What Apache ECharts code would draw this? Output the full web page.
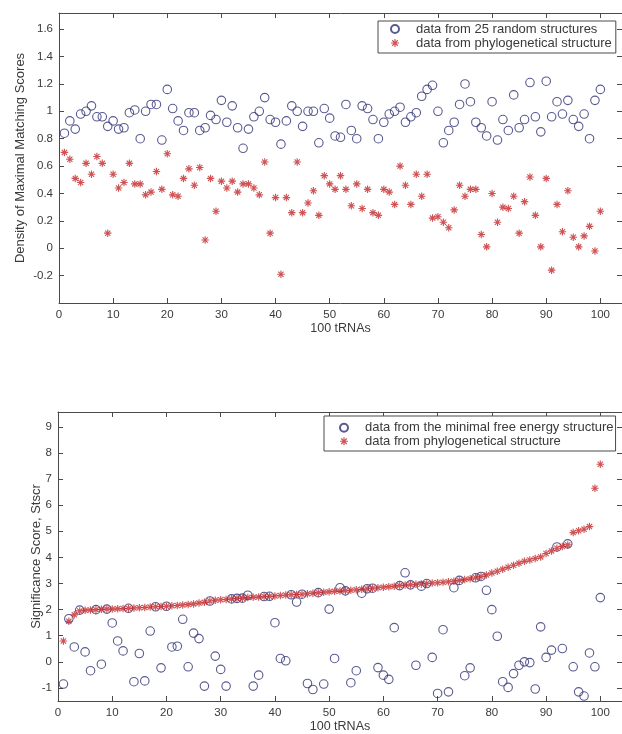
<!DOCTYPE html>
<html><head><meta charset="utf-8">
<script src="https://cdn.jsdelivr.net/npm/echarts@6/dist/echarts.min.js"></script>
<style>html,body{margin:0;padding:0;background:#fff}#c{width:622px;height:734px}</style>
</head><body><div id="c"></div>
<script>
const xTicks = [0, 10, 20, 30, 40, 50, 60, 70, 80, 90, 100];
const topYTicks = [-0.2, 0, 0.2, 0.4, 0.6, 0.8, 1, 1.2, 1.4, 1.6];
const botYTicks = [-1, 0, 1, 2, 3, 4, 5, 6, 7, 8, 9];

const topRandomNames = 'data from 25 random structures';
const phyloName = 'data from phylogenetical structure';
const botMinFreeName = 'data from the minimal free energy structure';

// Top panel: density of maximal matching scores
const topRandom = [
  0.84, 0.93, 0.87, 0.98, 1.00, 1.04, 0.96, 0.96, 0.89, 0.93,
  0.87, 0.88, 0.99, 1.01, 0.80, 1.00, 1.05, 1.05, 0.79, 1.16,
  1.02, 0.93, 0.86, 0.99, 0.99, 0.86, 0.88, 0.97, 0.94, 1.08,
  0.92, 1.04, 0.88, 0.73, 0.87, 0.96, 1.00, 1.10, 0.94, 0.92,
  0.76, 0.93, 1.04, 1.00, 0.89, 1.00, 1.00, 0.77, 1.02, 0.95,
  0.82, 0.81, 1.05, 0.86, 0.80, 1.04, 1.02, 0.94, 0.80, 0.92,
  0.98, 1.00, 1.03, 0.92, 0.96, 0.99, 1.11, 1.16, 1.19, 1.00,
  0.77, 0.86, 0.92, 1.05, 1.20, 1.07, 0.92, 0.88, 0.82, 1.07,
  0.79, 0.94, 0.86, 1.12, 0.88, 0.94, 1.21, 0.96, 0.85, 1.22,
  0.96, 1.07, 0.98, 1.08, 0.94, 0.89, 0.98, 0.80, 1.08, 1.16
];
const topPhylo = [
  0.70, 0.65, 0.51, 0.48, 0.62, 0.54, 0.67, 0.62, 0.11, 0.54,
  0.44, 0.48, 0.62, 0.47, 0.47, 0.39, 0.41, 0.56, 0.43, 0.69,
  0.39, 0.38, 0.51, 0.58, 0.46, 0.59, 0.06, 0.51, 0.27, 0.49,
  0.44, 0.49, 0.41, 0.47, 0.47, 0.44, 0.39, 0.63, 0.11, 0.37,
  -0.19, 0.37, 0.26, 0.63, 0.26, 0.33, 0.42, 0.24, 0.53, 0.47,
  0.43, 0.53, 0.43, 0.31, 0.47, 0.29, 0.43, 0.26, 0.24, 0.43,
  0.41, 0.32, 0.60, 0.46, 0.32, 0.54, 0.38, 0.54, 0.22, 0.23,
  0.19, 0.15, 0.28, 0.46, 0.38, 0.43, 0.43, 0.10, 0.01, 0.40,
  0.19, 0.30, 0.29, 0.38, 0.11, 0.34, 0.52, 0.24, 0.01, 0.51,
  -0.16, 0.32, 0.12, 0.42, 0.08, 0.01, 0.09, 0.16, -0.02, 0.27
];

// Bottom panel: significance score
const botMinFree = [
  -0.85, 1.65, 0.57, 1.98, 0.38, -0.34, 2.00, -0.09, 2.02, 1.49,
  0.80, 0.42, 2.05, -0.76, 0.32, -0.73, 1.18, 2.11, -0.23, 2.13,
  0.57, 0.60, 1.63, -0.19, 1.10, 0.89, -0.93, 2.33, 0.22, -0.29,
  -0.93, 2.41, 2.43, 2.44, 2.55, -0.93, -0.51, 2.50, 2.51, 1.50,
  0.13, 0.04, 2.57, 2.29, 2.59, -0.83, -1.06, 2.65, -0.85, 2.02,
  0.13, 2.84, 2.72, -0.80, -0.34, 2.63, 2.80, 2.82, -0.22, -0.51,
  -0.67, 1.31, 2.92, 3.41, 2.95, -0.13, 2.90, 3.00, 0.17, -1.21,
  1.23, -1.15, 2.84, 3.12, -0.53, -0.23, 3.22, 3.27, 2.74, 2.00,
  0.98, -0.76, -0.98, -0.45, -0.13, 0.00, -0.03, -1.04, 1.34, 0.17,
  0.45, 4.40, 0.51, 4.52, -0.19, -1.15, -1.31, 0.34, -0.19, 2.46
];
const botPhylo = [
  0.80, 1.55, 1.80, 1.95, 1.98, 1.99, 2.00, 2.01, 2.02, 2.02,
  2.03, 2.04, 2.05, 2.06, 2.07, 2.08, 2.10, 2.11, 2.12, 2.13,
  2.15, 2.16, 2.18, 2.20, 2.22, 2.25, 2.28, 2.33, 2.36, 2.38,
  2.39, 2.41, 2.43, 2.44, 2.46, 2.47, 2.48, 2.50, 2.51, 2.52,
  2.54, 2.56, 2.57, 2.58, 2.59, 2.61, 2.63, 2.65, 2.67, 2.68,
  2.70, 2.71, 2.72, 2.74, 2.76, 2.78, 2.80, 2.82, 2.84, 2.86,
  2.88, 2.90, 2.92, 2.94, 2.95, 2.97, 2.98, 3.00, 3.02, 3.03,
  3.05, 3.07, 3.09, 3.12, 3.15, 3.18, 3.22, 3.27, 3.33, 3.40,
  3.47, 3.55, 3.62, 3.70, 3.78, 3.85, 3.90, 3.96, 4.02, 4.15,
  4.25, 4.35, 4.42, 4.48, 4.95, 5.02, 5.08, 5.18, 6.65, 7.57
];

const NAVY = '#2f3175';
const RED = '#c3282b';
const AXIS = '#4a4a4a';
const TEXT = '#3a3a3a';
const FONT = '"Liberation Sans", Arial, sans-serif';
const STAR = 'path://M8.5,0L11.5,0L11.5,20L8.5,20Z M0,8.5L20,8.5L20,11.5L0,11.5Z M2,4.1L4.1,2L18,15.9L15.9,18Z M15.9,2L18,4.1L4.1,18L2,15.9Z';

const toPts = arr => arr.map((v, i) => [i + 1, v]);

function xAx(gridIndex, pos, showLabel, name) {
  return {
    type: 'value', gridIndex, position: pos, min: 0, max: 104,
    name: name || '', nameLocation: 'middle', nameGap: 19, nameMoveOverlap: false,
    nameTextStyle: { color: TEXT, fontSize: 12.5, fontFamily: FONT },
    axisLine: { show: true, onZero: false, lineStyle: { color: AXIS, width: 1 } },
    axisTick: { show: true, inside: true, length: 5, customValues: xTicks, lineStyle: { color: AXIS } },
    axisLabel: { show: showLabel, customValues: xTicks, margin: 6, color: TEXT, fontSize: 11.5, fontFamily: FONT },
    splitLine: { show: false }
  };
}
function yAx(gridIndex, pos, showLabel, min, max, ticks, name, gap) {
  return {
    type: 'value', gridIndex, position: pos, min, max,
    name: name || '', nameLocation: 'middle', nameGap: gap || 30, nameMoveOverlap: false,
    nameTextStyle: { color: TEXT, fontSize: 13, fontFamily: FONT },
    axisLine: { show: true, onZero: false, lineStyle: { color: AXIS, width: 1 } },
    axisTick: { show: true, inside: true, length: 5, customValues: ticks, lineStyle: { color: AXIS } },
    axisLabel: { show: showLabel, customValues: ticks, margin: 6, color: TEXT, fontSize: 11.5, fontFamily: FONT },
    splitLine: { show: false }
  };
}

const chart = echarts.init(document.getElementById('c'), null, { renderer: 'canvas' });
chart.setOption({
  backgroundColor: '#fff',
  animation: false,
  grid: [
    { left: 59, top: 13, width: 564, height: 290 },
    { left: 58, top: 412, width: 564, height: 290 }
  ],
  xAxis: [
    xAx(0, 'bottom', true, '100 tRNAs'),
    xAx(0, 'top', false),
    xAx(1, 'bottom', true, '100 tRNAs'),
    xAx(1, 'top', false)
  ],
  yAxis: [
    yAx(0, 'left', true, -0.4, 1.718, topYTicks, 'Density of Maximal Matching Scores', 32),
    yAx(0, 'right', false, -0.4, 1.718, topYTicks),
    yAx(1, 'left', true, -1.5, 9.57, botYTicks, 'Significance Score, Stscr', 15),
    yAx(1, 'right', false, -1.5, 9.57, botYTicks)
  ],
  legend: [
    {
      orient: 'vertical', left: 378, top: 21,
      padding: [1, 4, 3, 12], itemGap: 0, itemWidth: 8, itemHeight: 8,
      borderColor: AXIS, borderWidth: 1, backgroundColor: '#fff',
      selectedMode: false,
      textStyle: { color: TEXT, fontSize: 13, fontFamily: FONT, lineHeight: 14, padding: [0, 0, 0, 12] },
      data: [topRandomNames, phyloName]
    },
    {
      orient: 'vertical', left: 324, top: 416,
      padding: [5, 2, 3, 15], itemGap: 0, itemWidth: 8, itemHeight: 8,
      borderColor: AXIS, borderWidth: 1, backgroundColor: '#fff',
      selectedMode: false,
      textStyle: { color: TEXT, fontSize: 13, fontFamily: FONT, lineHeight: 13.5, padding: [0, 0, 0, 12] },
      data: [botMinFreeName, phyloName]
    }
  ],
  series: [
    {
      type: 'scatter', name: topRandomNames, xAxisIndex: 0, yAxisIndex: 0,
      symbol: 'circle', symbolSize: 8.5,
      itemStyle: { color: 'rgba(0,0,0,0)', borderColor: NAVY, borderWidth: 1.1 },
      data: toPts(topRandom)
    },
    {
      type: 'scatter', name: phyloName, xAxisIndex: 0, yAxisIndex: 0,
      symbol: STAR, symbolSize: 7.5,
      itemStyle: { color: RED },
      data: toPts(topPhylo)
    },
    {
      type: 'scatter', name: botMinFreeName, xAxisIndex: 2, yAxisIndex: 2,
      symbol: 'circle', symbolSize: 8.5,
      itemStyle: { color: 'rgba(0,0,0,0)', borderColor: NAVY, borderWidth: 1.1 },
      data: toPts(botMinFree)
    },
    {
      type: 'scatter', name: phyloName, xAxisIndex: 2, yAxisIndex: 2,
      symbol: STAR, symbolSize: 7.5,
      itemStyle: { color: RED },
      data: toPts(botPhylo)
    }
  ]
});
</script>
</body></html>
